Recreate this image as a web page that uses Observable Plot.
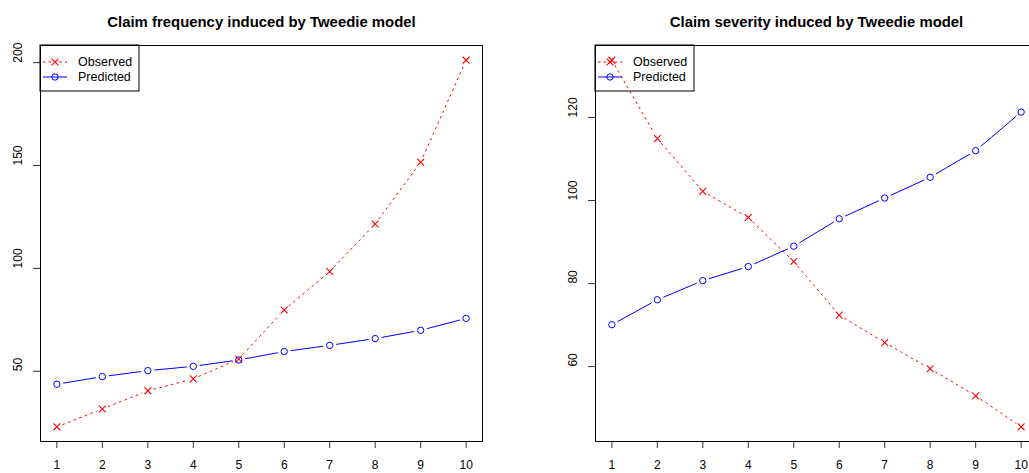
<!DOCTYPE html>
<html>
<head>
<meta charset="utf-8">
<script src="https://cdn.jsdelivr.net/npm/d3@7"></script>
<script src="https://cdn.jsdelivr.net/npm/@observablehq/plot@0.6"></script>
<style>
  html, body { margin: 0; padding: 0; background: white; }
  #wrap { position: relative; width: 1029px; height: 473px; overflow: hidden; background: white; }
  #wrap > div, #wrap > svg { position: absolute; top: 0; }
</style>
</head>
<body>
<div id="wrap"></div>
<script>
// ---- data ----
const groups = [1, 2, 3, 4, 5, 6, 7, 8, 9, 10];
const freqObserved  = [23.0, 31.7, 40.5, 46.3, 56.0, 79.8, 98.5, 121.6, 151.6, 201.2];
const freqPredicted = [43.7, 47.4, 50.3, 52.4, 55.5, 59.6, 62.6, 65.9, 69.9, 75.7];
const sevObserved   = [133.8, 114.9, 102.2, 95.9, 85.3, 72.4, 65.8, 59.5, 53.0, 45.5];
const sevPredicted  = [70.1, 76.1, 80.7, 84.1, 89.0, 95.6, 100.6, 105.6, 112.0, 121.3];
const freqTicks = [50, 100, 150, 200];
const sevTicks  = [60, 80, 100, 120];
const xTicks = groups;
const titles = ["Claim frequency induced by Tweedie model", "Claim severity induced by Tweedie model"];
const seriesNames = ["Observed", "Predicted"];

const RED = "#FF0000", BLUE = "#0000FF";
const FONT = "'Liberation Sans', Arial, Helvetica, sans-serif";

function segments(vals) {
  return groups.slice(0, -1).map((x, i) => ({x1: x, y1: vals[i], x2: groups[i + 1], y2: vals[i + 1]}));
}

function panel({title, obs, pred, yTicks, width, marginLeft, marginRight, left}) {
  const rows = groups.map((x, i) => ({x, obs: obs[i], pred: pred[i]}));
  const all = obs.concat(pred);
  const lo = d3.min(all), hi = d3.max(all), pad = (hi - lo) * 0.04;
  const xpad = (d3.max(groups) - d3.min(groups)) * 0.04;
  const plot = Plot.plot({
    width, height: 473, marginLeft, marginRight, marginTop: 45, marginBottom: 32,
    style: {fontFamily: FONT, fontSize: "12px", color: "black", background: "white", overflow: "visible"},
    x: {domain: [d3.min(groups) - xpad, d3.max(groups) + xpad], axis: null, label: null},
    y: {domain: [lo - pad, hi + pad], axis: null, label: null},
    marks: [
      Plot.axisX({ticks: xTicks, tickSize: 7, tickPadding: 12, label: null, tickFormat: d => String(d), stroke: "#333", fill: "black", fontSize: 12}),
      Plot.axisY({ticks: yTicks, tickSize: 7, label: null, tickFormat: () => "", stroke: "#333"}),
      Plot.text(yTicks, {y: d => d, text: d => String(d), frameAnchor: "left", dx: -22, rotate: -90, fill: "black", fontSize: 12}),
      Plot.arrow(segments(obs), {x1: "x1", y1: "y1", x2: "x2", y2: "y2", stroke: RED, strokeWidth: 1, headLength: 0, inset: 6, strokeDasharray: "2.5,3.5", strokeLinecap: "butt"}),
      Plot.dot(rows, {x: "x", y: "obs", symbol: "times", r: 3.2, stroke: RED, strokeWidth: 1.1}),
      Plot.arrow(segments(pred), {x1: "x1", y1: "y1", x2: "x2", y2: "y2", stroke: BLUE, strokeWidth: 1, headLength: 0, inset: 6.5, strokeLinecap: "butt"}),
      Plot.dot(rows, {x: "x", y: "pred", symbol: "circle", r: 3.2, stroke: BLUE, fill: "none", strokeWidth: 1}),
      Plot.frame({stroke: "black", strokeWidth: 1}),
      Plot.text([title], {text: d => d, frameAnchor: "top", dy: -29, fontWeight: "bold", fontSize: 14.9, fill: "black"})
    ]
  });
  plot.style.left = left + "px";

  // legend (top-left corner of the plot frame), transparent like R's legend
  const svg = d3.select(plot);
  const g = svg.append("g").attr("transform", `translate(${marginLeft},45)`)
    .attr("font-family", FONT).attr("font-size", 12.5).attr("text-anchor", "start");
  g.append("rect").attr("x", 0).attr("y", 0).attr("width", 99).attr("height", 46)
    .attr("fill", "none").attr("stroke", "black");
  const entries = [
    {name: seriesNames[0], color: RED, dash: "2.5,3", sym: "times"},
    {name: seriesNames[1], color: BLUE, dash: null, sym: "circle"}
  ];
  entries.forEach((e, i) => {
    const cy = 17 + i * 15;
    g.append("line").attr("x1", 3).attr("x2", 27).attr("y1", cy).attr("y2", cy)
      .attr("stroke", e.color).attr("stroke-width", 1).attr("stroke-dasharray", e.dash);
    if (e.sym === "times") {
      g.append("path").attr("d", `M${15-3.4},${cy-3.4}L${15+3.4},${cy+3.4}M${15-3.4},${cy+3.4}L${15+3.4},${cy-3.4}`)
        .attr("stroke", e.color).attr("stroke-width", 1.1).attr("fill", "none");
    } else {
      g.append("circle").attr("cx", 15).attr("cy", cy).attr("r", 3.2)
        .attr("stroke", e.color).attr("fill", "none").attr("stroke-width", 1);
    }
    g.append("text").attr("x", 38).attr("y", cy).attr("dy", "0.35em").attr("text-anchor", "start")
      .attr("fill", "black").text(e.name);
  });
  return plot;
}

const wrap = document.getElementById("wrap");
wrap.appendChild(panel({title: titles[0], obs: freqObserved, pred: freqPredicted, yTicks: freqTicks,
  width: 515, marginLeft: 40, marginRight: 33, left: 0}));
wrap.appendChild(panel({title: titles[1], obs: sevObserved, pred: sevPredicted, yTicks: sevTicks,
  width: 540, marginLeft: 80, marginRight: 18, left: 515}));
</script>
</body>
</html>
